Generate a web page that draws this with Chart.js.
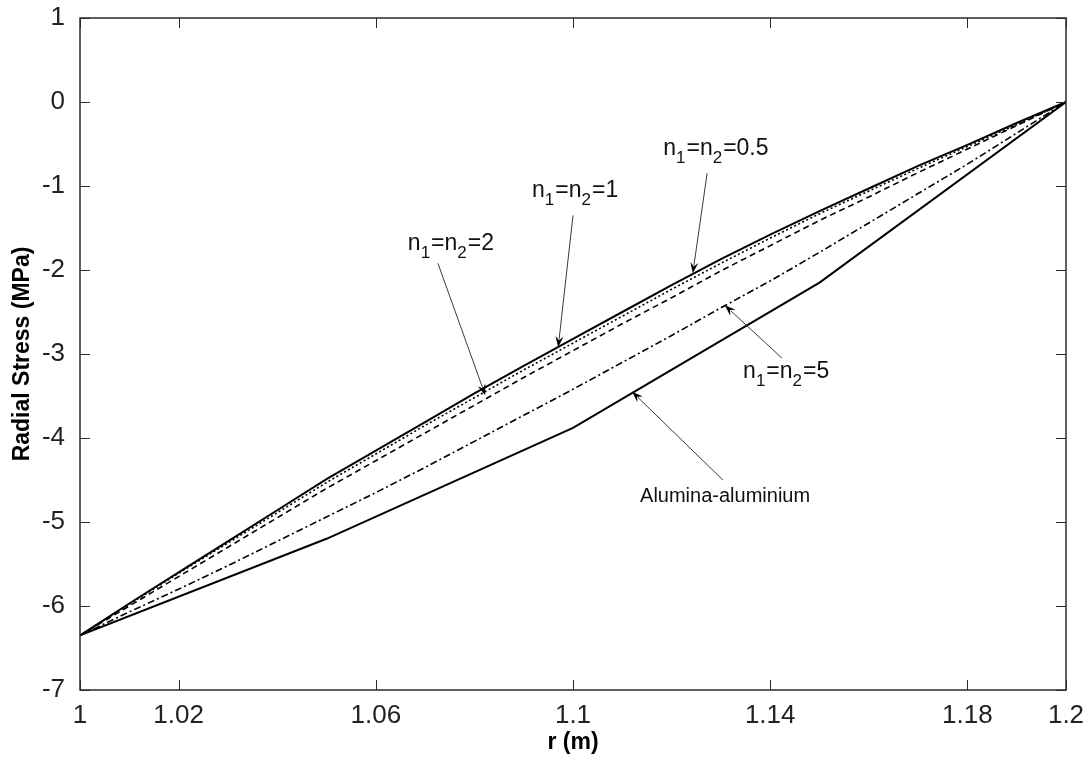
<!DOCTYPE html>
<html>
<head>
<meta charset="utf-8">
<script src="https://cdn.jsdelivr.net/npm/chart.js@4.4.0/dist/chart.umd.min.js"></script>
<style>
  html, body { margin: 0; padding: 0; background: #fff; }
  #wrap { width: 1087px; height: 760px; }
</style>
</head>
<body>
<div id="wrap"><canvas id="stressChart" width="1087" height="760"></canvas></div>
<script>
// radius (m) and radial stress (MPa) for each gradient index
const radius = [1.00, 1.01, 1.02, 1.03, 1.04, 1.05, 1.06, 1.07, 1.08, 1.09, 1.10,
                1.11, 1.12, 1.13, 1.14, 1.15, 1.16, 1.17, 1.18, 1.19, 1.20];
const stressN05 = [-6.35, -5.97, -5.60, -5.23, -4.86, -4.49, -4.15, -3.81, -3.47, -3.14, -2.82,
                   -2.50, -2.18, -1.87, -1.58, -1.30, -1.03, -0.76, -0.51, -0.25, 0];
const stressN1 = [-6.35, -5.98, -5.61, -5.25, -4.89, -4.53, -4.19, -3.85, -3.52, -3.19, -2.87,
                  -2.55, -2.23, -1.92, -1.62, -1.33, -1.06, -0.79, -0.53, -0.27, 0];
const stressN2 = [-6.35, -6.00, -5.65, -5.30, -4.95, -4.60, -4.27, -3.94, -3.61, -3.28, -2.96,
                  -2.64, -2.33, -2.01, -1.71, -1.41, -1.13, -0.84, -0.56, -0.28, 0];
const stressN5 = [-6.35, -6.07, -5.80, -5.52, -5.23, -4.94, -4.65, -4.35, -4.04, -3.73, -3.42,
                  -3.10, -2.78, -2.45, -2.13, -1.79, -1.44, -1.09, -0.74, -0.37, 0];
// two-layer alumina / aluminium cylinder
const alumRadius = [1.00, 1.05, 1.10, 1.15, 1.20];
const alumStress = [-6.35, -5.20, -3.88, -2.15, 0];

const xTicks = [1, 1.02, 1.06, 1.1, 1.14, 1.18, 1.2];
const yTicks = [-7, -6, -5, -4, -3, -2, -1, 0, 1];

// callout labels: text parts [string, isSubscript], label anchor, arrow start and tip (data units)
const notes = [
  { parts: [['n', 0], ['1', 1], ['=n', 0], ['2', 1], ['=0.5', 0]], at: [1.1183, -0.63], from: [1.1272, -0.85], to: [1.1243, -2.04] },
  { parts: [['n', 0], ['1', 1], ['=n', 0], ['2', 1], ['=1', 0]], at: [1.0917, -1.13], from: [1.1000, -1.35], to: [1.0970, -2.92] },
  { parts: [['n', 0], ['1', 1], ['=n', 0], ['2', 1], ['=2', 0]], at: [1.0665, -1.76], from: [1.0726, -1.92], to: [1.0822, -3.49] },
  { parts: [['n', 0], ['1', 1], ['=n', 0], ['2', 1], ['=5', 0]], at: [1.1345, -3.29], from: [1.1424, -3.05], to: [1.1308, -2.42] },
  { parts: [['Alumina-aluminium', 0]], at: [1.1136, -4.76], from: [1.1304, -4.50], to: [1.1120, -3.45], size: 20 }
];

const pts = (xs, ys) => xs.map((v, i) => ({ x: v, y: ys[i] }));
const FONT = '"Liberation Sans", Arial, sans-serif';

// boxed axes with inward tick marks on all four sides
const frameTicks = {
  id: 'frameTicks',
  afterDatasetsDraw(chart) {
    const { ctx, chartArea: a, scales: { x, y } } = chart;
    const len = 10;
    ctx.save();
    ctx.strokeStyle = '#2b2b2b';
    ctx.lineWidth = 1.5;
    ctx.strokeRect(a.left, a.top, a.right - a.left, a.bottom - a.top);
    ctx.lineWidth = 1;
    ctx.beginPath();
    xTicks.forEach(v => {
      const px = Math.round(x.getPixelForValue(v)) + 0.5;
      ctx.moveTo(px, a.bottom); ctx.lineTo(px, a.bottom - len);
      ctx.moveTo(px, a.top); ctx.lineTo(px, a.top + len);
    });
    yTicks.forEach(v => {
      const py = Math.round(y.getPixelForValue(v)) + 0.5;
      ctx.moveTo(a.left, py); ctx.lineTo(a.left + len, py);
      ctx.moveTo(a.right, py); ctx.lineTo(a.right - len, py);
    });
    ctx.stroke();
    ctx.restore();
  }
};

// text callouts with subscripts and arrows
const callouts = {
  id: 'callouts',
  afterDraw(chart) {
    const { ctx, scales: { x, y } } = chart;
    ctx.save();
    notes.forEach(n => {
      let tx = x.getPixelForValue(n.at[0]);
      const ty = y.getPixelForValue(n.at[1]);
      const size = n.size || 23;
      ctx.fillStyle = '#111';
      ctx.textBaseline = 'alphabetic';
      n.parts.forEach(([s, sub]) => {
        ctx.font = (sub ? Math.round(size * 0.72) : size) + 'px ' + FONT;
        ctx.fillText(s, tx, sub ? ty + 8 : ty);
        tx += ctx.measureText(s).width + (sub ? 1 : 0);
      });
      const x0 = x.getPixelForValue(n.from[0]), y0 = y.getPixelForValue(n.from[1]);
      const x1 = x.getPixelForValue(n.to[0]), y1 = y.getPixelForValue(n.to[1]);
      const ang = Math.atan2(y1 - y0, x1 - x0);
      ctx.strokeStyle = '#3a3a3a';
      ctx.lineWidth = 1;
      ctx.beginPath();
      ctx.moveTo(x0, y0);
      ctx.lineTo(x1 - 8 * Math.cos(ang), y1 - 8 * Math.sin(ang));
      ctx.stroke();
      ctx.fillStyle = '#000';
      ctx.beginPath();
      ctx.moveTo(x1, y1);
      ctx.lineTo(x1 - 11 * Math.cos(ang) + 4 * Math.sin(ang), y1 - 11 * Math.sin(ang) - 4 * Math.cos(ang));
      ctx.lineTo(x1 - 7 * Math.cos(ang), y1 - 7 * Math.sin(ang));
      ctx.lineTo(x1 - 11 * Math.cos(ang) - 4 * Math.sin(ang), y1 - 11 * Math.sin(ang) + 4 * Math.cos(ang));
      ctx.closePath();
      ctx.fill();
    });
    ctx.restore();
  }
};

const line = (data, dash, width) => ({
  data, borderColor: '#000', borderWidth: width, borderDash: dash,
  pointRadius: 0, fill: false, tension: 0
});

new Chart(document.getElementById('stressChart'), {
  type: 'line',
  data: {
    datasets: [
      line(pts(radius, stressN05), [], 2),
      line(pts(radius, stressN1), [2, 2.5], 1.6),
      line(pts(radius, stressN2), [6, 4], 1.6),
      line(pts(radius, stressN5), [7, 3, 2, 3], 1.6),
      line(pts(alumRadius, alumStress), [], 2)
    ]
  },
  options: {
    responsive: false,
    animation: false,
    devicePixelRatio: 1,
    layout: { padding: { top: 18, right: 21, left: 0, bottom: 0 } },
    plugins: { legend: { display: false }, tooltip: { enabled: false } },
    scales: {
      x: {
        type: 'linear', min: 1, max: 1.2,
        afterBuildTicks: s => { s.ticks = xTicks.map(v => ({ value: v })); },
        afterFit: s => { s.height = 70; s.paddingLeft = 0; s.paddingRight = 0; },
        grid: { display: false, drawTicks: false },
        border: { display: false },
        ticks: { autoSkip: false, maxRotation: 0, padding: 10, color: '#222',
                 font: { family: FONT, size: 26 }, callback: v => String(v) },
        title: { display: true, text: 'r (m)', color: '#000', padding: { top: 4, bottom: 4 },
                 font: { family: FONT, size: 23, weight: 'bold' } }
      },
      y: {
        type: 'linear', min: -7, max: 1,
        afterBuildTicks: s => { s.ticks = yTicks.map(v => ({ value: v })); },
        afterFit: s => { s.width = 80; s.paddingTop = 0; s.paddingBottom = 0; },
        grid: { display: false, drawTicks: false },
        border: { display: false },
        ticks: { padding: 15, color: '#222', font: { family: FONT, size: 26 }, callback: v => String(v) },
        title: { display: true, text: 'Radial Stress (MPa)', color: '#000', padding: { top: 9, bottom: 4 },
                 font: { family: FONT, size: 23, weight: 'bold' } }
      }
    }
  },
  plugins: [frameTicks, callouts]
});
</script>
</body>
</html>
